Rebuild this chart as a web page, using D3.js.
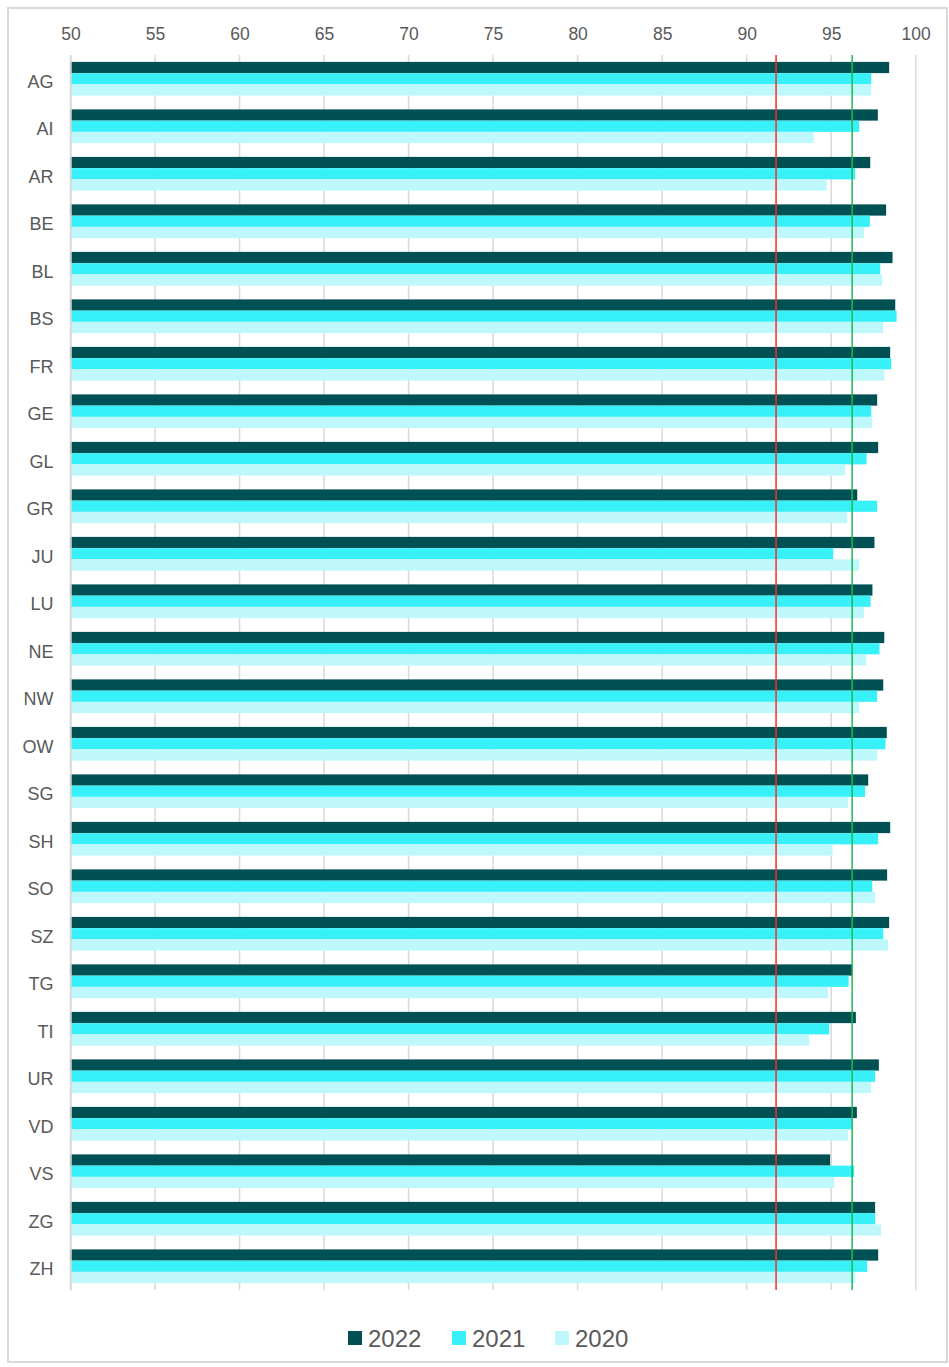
<!DOCTYPE html>
<html><head><meta charset="utf-8">
<script src="https://cdn.jsdelivr.net/npm/d3@7"></script>
<style>body{margin:0;background:#fff}svg{display:block}</style>
</head><body>
<script>
const categories = ["AG","AI","AR","BE","BL","BS","FR","GE","GL","GR","JU","LU","NE","NW","OW","SG","SH","SO","SZ","TG","TI","UR","VD","VS","ZG","ZH"];
const series = ["2022","2021","2020"];
const values2022 = [98.43,97.76,97.31,98.25,98.63,98.79,98.49,97.72,97.78,96.54,97.56,97.44,98.14,98.08,98.29,97.19,98.49,98.31,98.43,96.24,96.46,97.82,96.52,94.94,97.60,97.78];
const values2021 = [97.37,96.66,96.42,97.29,97.90,98.87,98.55,97.37,97.09,97.72,95.12,97.33,97.86,97.72,98.21,97.01,97.78,97.43,98.08,96.03,94.88,97.60,96.22,96.36,97.60,97.13];
const values2020 = [97.37,93.97,94.74,96.95,98.02,98.08,98.14,97.43,95.83,95.95,96.66,96.95,97.07,96.66,97.72,96.00,95.08,97.60,98.37,94.82,93.70,97.37,96.00,95.18,97.96,96.42];
const tickValues = [50,55,60,65,70,75,80,85,90,95,100];
const refLines = [{value:91.74,color:"#ff2a2a"},{value:96.24,color:"#1db954"}];
const colors = {"2022":"#005054","2021":"#38f0f8","2020":"#bff8fc"};

const W=949,H=1367;
const svg=d3.select("body").append("svg").attr("width",W).attr("height",H);
const font="'Liberation Sans', Arial, sans-serif";
svg.append("rect").attr("x",8).attr("y",8).attr("width",939).attr("height",1354)
  .attr("fill","#fff").attr("stroke","#d9d9d9").attr("stroke-width",2);

const x=d3.scaleLinear().domain([50,100]).range([70.5,915.7]);
const y=d3.scaleBand().domain(categories).range([55,1290]).paddingInner(0.29).paddingOuter(0.145);
const y1=d3.scaleBand().domain(series).range([0,y.bandwidth()]);

// gridlines
svg.append("g").selectAll("line").data(tickValues).join("line")
  .attr("x1",d=>x(d)).attr("x2",d=>x(d)).attr("y1",55).attr("y2",1290)
  .attr("stroke","#d9d9d9").attr("stroke-width",1.5);

// top axis labels
const ax=svg.append("g").attr("transform","translate(0,55)")
  .call(d3.axisTop(x).tickValues(tickValues).tickSize(0).tickPadding(15));
ax.select(".domain").remove();
ax.selectAll("text").attr("font-family",font).attr("font-size",17.5).attr("fill","#595959");

// bars
const data = categories.map((c,i)=>({c, v:{"2022":values2022[i],"2021":values2021[i],"2020":values2020[i]}}));
const g=svg.append("g");
data.forEach(d=>{
  series.forEach(s=>{
    g.append("rect").attr("x",x(50)).attr("y",y(d.c)+y1(s))
      .attr("width",x(d.v[s])-x(50)).attr("height",y1.bandwidth())
      .attr("fill",colors[s]);
  });
});

// left axis
const la=svg.append("g").attr("transform",`translate(${x(50)},0)`)
  .call(d3.axisLeft(y).tickSize(0).tickPadding(17));
la.select(".domain").attr("stroke","#d9d9d9").attr("stroke-width",1.5);
la.selectAll("text").attr("font-family",font).attr("font-size",18).attr("fill","#595959")
  .attr("dy","0.5em");

// reference lines
svg.append("g").selectAll("line").data(refLines).join("line")
  .attr("x1",d=>x(d.value)).attr("x2",d=>x(d.value)).attr("y1",55).attr("y2",1290)
  .attr("stroke",d=>d.color).attr("stroke-width",1.5);

// legend
const legX=[348,452,555];
const lg=svg.append("g");
series.forEach((s,i)=>{
  lg.append("rect").attr("x",legX[i]).attr("y",1331).attr("width",14).attr("height",14).attr("fill",colors[s]);
  lg.append("text").attr("x",legX[i]+20).attr("y",1347).text(s)
    .attr("font-family",font).attr("font-size",24).attr("fill","#595959");
});
</script>
</body></html>
